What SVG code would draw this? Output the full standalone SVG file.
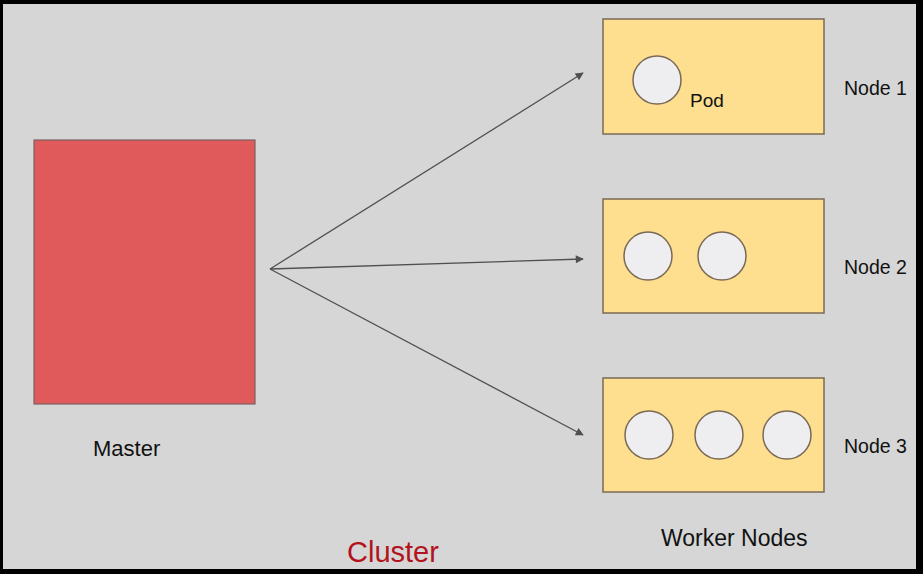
<svg xmlns="http://www.w3.org/2000/svg" width="923" height="574" viewBox="0 0 923 574">
<defs>
<style>
.node{fill:#fddf8f;stroke:#7a6a55;stroke-width:1.5}
.pod{fill:#eeedf0;stroke:#7a6a55;stroke-width:1.5}
.lbl{font-family:"Liberation Sans",Arial,sans-serif;fill:#111}
.conn{stroke:#505050;stroke-width:1.3;fill:none;marker-end:url(#ah)}
</style>
<marker id="ah" viewBox="0 0 10 10" refX="9" refY="5" markerWidth="10" markerHeight="8" markerUnits="userSpaceOnUse" orient="auto">
<path d="M0,0 L10,5 L0,10 z" fill="#505050"/>
</marker>
</defs>
<rect x="0" y="0" width="923" height="574" fill="#000"/>
<rect x="3" y="4" width="913" height="565" fill="#d6d6d6"/>
<g id="master">
<rect x="34" y="140" width="221" height="264" fill="#e05a5c" stroke="#7a6060" stroke-width="1.2"/>
<text class="lbl" x="93" y="456" font-size="22">Master</text>
</g>
<g id="node1">
<rect class="node" x="603" y="19" width="221" height="115"/>
<circle class="pod" cx="657" cy="80" r="24"/>
<text class="lbl" x="690" y="107" font-size="19">Pod</text>
<text class="lbl" x="844" y="95" font-size="19.5">Node 1</text>
</g>
<g id="node2">
<rect class="node" x="603" y="199" width="221" height="114"/>
<circle class="pod" cx="648" cy="256" r="24"/>
<circle class="pod" cx="722" cy="256" r="24"/>
<text class="lbl" x="844" y="274" font-size="19.5">Node 2</text>
</g>
<g id="node3">
<rect class="node" x="603" y="378" width="221" height="114"/>
<circle class="pod" cx="649" cy="435" r="24"/>
<circle class="pod" cx="719" cy="435" r="24"/>
<circle class="pod" cx="787" cy="435" r="24"/>
<text class="lbl" x="844" y="453" font-size="19.5">Node 3</text>
</g>
<g id="connectors">
<line class="conn" x1="270" y1="269" x2="583" y2="73"/>
<line class="conn" x1="270" y1="269" x2="583" y2="259"/>
<line class="conn" x1="270" y1="269" x2="583" y2="435"/>
</g>
<text x="347" y="562" font-size="29" font-family="'Liberation Sans',Arial,sans-serif" fill="#b3131c">Cluster</text>
<text class="lbl" x="661" y="546" font-size="23">Worker Nodes</text>
</svg>
